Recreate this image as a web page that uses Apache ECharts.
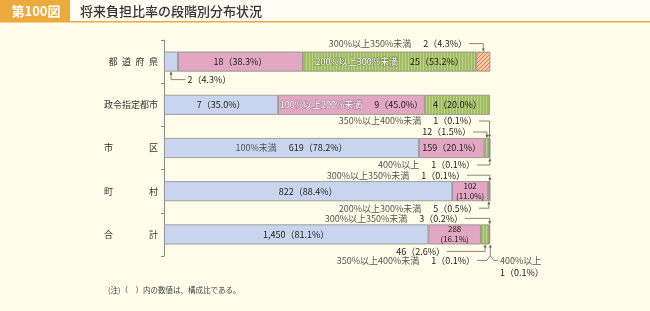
<!DOCTYPE html>
<html><head><meta charset="utf-8">
<script src="https://cdn.jsdelivr.net/npm/echarts@6/dist/echarts.min.js"></script>
<style>html,body{margin:0;padding:0;background:#fffde9;} #c{width:650px;height:311px;}</style>
</head><body><div id="c"></div>
<script>
// ---- data ----
const categories = ['都道府県','政令指定都市','市区','町村','合計'];
const seriesNames = ['100%未満','100%以上200%未満','200%以上300%未満','300%以上350%未満','350%以上400%未満','400%以上'];
const countUnder100 = [2, 7, 619, 822, 1450];
const count100to200 = [18, 9, 159, 102, 288];
const count200to300 = [25, 4, 12, 5, 46];
const count300to350 = [2, 0, 0, 1, 3];
const count350to400 = [0, 0, 1, 0, 1];
const count400plus  = [0, 0, 1, 0, 1];
const pctUnder100 = [4.3, 35.0, 78.2, 88.4, 81.1];
const pct100to200 = [38.3, 45.0, 20.1, 11.0, 16.1];
const pct200to300 = [53.2, 20.0, 1.5, 0.5, 2.6];
const pct300to350 = [4.3, 0, 0, 0.1, 0.2];
const pct350to400 = [0, 0, 0.1, 0, 0.1];
const pct400plus  = [0, 0, 0.1, 0, 0.1];
const noteText = '(注)（　）内の数値は、構成比である。';
const figNo = '第100図';
const titleText = '将来負担比率の段階別分布状況';

const counts = [countUnder100, count100to200, count200to300, count300to350, count350to400, count400plus];
const pcts = [pctUnder100, pct100to200, pct200to300, pct300to350, pct350to400, pct400plus];

// ---- style / layout ----
const FONT = '"Noto Sans CJK JP", "Noto Sans", sans-serif';
function mkPattern(w, h, draw) {
  const cv = document.createElement('canvas'); cv.width = w; cv.height = h;
  const g = cv.getContext('2d'); draw(g, w, h);
  return { image: cv, repeat: 'repeat' };
}
const greenPat = mkPattern(3, 4, (g, w, h) => { g.fillStyle = '#a2bd63'; g.fillRect(0, 0, w, h); g.fillStyle = '#bcd288'; g.fillRect(0, 0, 1, h); });
const orangePat = mkPattern(4, 4, (g, w, h) => {
  g.fillStyle = '#f5c7a2'; g.fillRect(0, 0, w, h);
  g.strokeStyle = '#e08247'; g.lineWidth = 1; g.beginPath();
  g.moveTo(-1, h + 1); g.lineTo(w + 1, -1);
  g.moveTo(-2, 2); g.lineTo(2, -2);
  g.moveTo(w - 2, h + 2); g.lineTo(w + 2, h - 2);
  g.stroke();
});
const colors = ['#c9d5ef', '#e2a7c3', greenPat, orangePat, '#6d6d6d', '#6d6d6d'];
const nameStyles = [
  { color: '#555', fontSize: 9, fontFamily: FONT },
  { color: '#fff', fontSize: 9, fontFamily: FONT, textBorderColor: '#9a7585', textBorderWidth: 1 },
  { color: '#fff', fontSize: 9, fontFamily: FONT, textBorderColor: '#6f8048', textBorderWidth: 1 },
  { color: '#555', fontSize: 9, fontFamily: FONT },
  { color: '#555', fontSize: 9, fontFamily: FONT },
  { color: '#555', fontSize: 9, fontFamily: FONT }
];
const labelMode = [
  ['ext', 'plain', 'named', 'plain', 'plain'],
  ['plain', 'named', 'plain', 'stack', 'stack'],
  ['named', 'plain', 'ext', 'ext', 'ext'],
  ['ext', null, null, 'ext', 'ext'],
  [null, null, 'ext', null, 'ext'],
  [null, null, 'ext', null, 'ext']
];
const catLabel = {'都道府県': '都\u2002道\u2002府\u2002県', '政令指定都市': '政令指定都市', '市区': '市　　　　区', '町村': '町　　　　村', '合計': '合　　　　計'};

const fmtC = n => n.toLocaleString('en-US');
const fmtP = p => p.toFixed(1);

function richFor(si) {
  return {
    n: nameStyles[si],
    v: { color: '#222', fontSize: 9, fontFamily: FONT },
    s: { color: '#222', fontSize: 8, fontFamily: FONT, lineHeight: 10, align: 'center' }
  };
}
function makeLabel(si, ci, mode) {
  const c = fmtC(counts[si][ci]), p = fmtP(pcts[si][ci]);
  if (mode === 'named') return '{n|' + seriesNames[si] + '}　{v|' + c + '（' + p + '%）}';
  if (mode === 'stack') return '{s|' + c + '}\n{s|(' + p + '%)}';
  return '{v|' + c + '（' + p + '%）}';
}

const series = seriesNames.map((name, si) => ({
  name, type: 'bar', stack: 'total', barWidth: 20,
  itemStyle: { color: colors[si], borderColor: '#8c8c8c', borderWidth: 0.8 },
  label: { show: false, position: 'inside', rich: richFor(si) },
  emphasis: { disabled: true },
  data: pcts[si].map((p, ci) => {
    const mode = labelMode[si][ci];
    const item = { value: counts[si][ci] === 0 ? null : p };
    if (mode === 'plain' || mode === 'named' || mode === 'stack') {
      item.label = { show: true, position: 'inside', formatter: makeLabel(si, ci, mode), rich: richFor(si) };
    }
    return item;
  })
}));

const chart = echarts.init(document.getElementById('c'), null, { renderer: 'canvas' });
chart.setOption({
  animation: false,
  backgroundColor: '#fffde9',
  grid: { left: 164, right: 160, top: 40, bottom: 55 },
  xAxis: { type: 'value', min: 0, max: 100, show: false },
  yAxis: {
    type: 'category', data: categories, inverse: true,
    axisLine: { lineStyle: { color: '#8a8a8a', width: 1 } },
    axisTick: { show: true, length: 3, lineStyle: { color: '#8a8a8a' } },
    axisLabel: { formatter: v => catLabel[v] || v, fontSize: 9, color: '#333', margin: 6, fontFamily: FONT }
  },
  series
});

// ---- callouts (positions derived from axes) ----
const callouts = [
  { s: 3, c: 0, side: 'top', dy: 8, textX: -23, align: 'right', named: true },
  { s: 0, c: 0, side: 'bottom', dy: 8, segOff: 16.5, align: 'left', named: false },
  { s: 4, c: 2, side: 'top', dy: 17, textX: -13, align: 'right', named: true },
  { s: 2, c: 2, side: 'top', dy: 6, textX: -19, align: 'right', named: false },
  { s: 5, c: 2, side: 'bottom', dy: 7, textX: -15, align: 'right', named: true },
  { s: 3, c: 3, side: 'top', dy: 6, textX: -25, align: 'right', named: true },
  { s: 2, c: 3, side: 'bottom', dy: 7, textX: -13, align: 'right', named: true },
  { s: 3, c: 4, side: 'top', dy: 6, textX: -27, align: 'right', named: true },
  { s: 2, c: 4, side: 'bottom', dy: 7, textX: -45, align: 'right', named: false },
  { s: 4, c: 4, side: 'bottom', dy: 16, textX: -15, align: 'right', named: true, brace: 'left' },
  { s: 5, c: 4, side: 'bottom', dy: 16, textX: 10, align: 'left', named: true, brace: 'right', split: true }
];
const LC = '#666';
const xPix = v => chart.convertToPixel({ xAxisIndex: 0 }, v);
const yPix = c => chart.convertToPixel({ yAxisIndex: 0 }, categories[c]);
const xEnd = xPix(100);
const g = [];
function segCenter(si, ci) {
  let s = 0; for (let k = 0; k < si; k++) s += pcts[k][ci];
  return xPix(s + pcts[si][ci] / 2);
}
function arrow(x, y, dir) {
  g.push({ type: 'polygon', silent: true, z: 20, shape: { points: [[x - 1.6, y - 3.2 * dir], [x + 1.6, y - 3.2 * dir], [x, y]] }, style: { fill: LC } });
}
function line(pts) {
  g.push({ type: 'polyline', silent: true, z: 20, shape: { points: pts }, style: { stroke: LC, lineWidth: 0.8, fill: null } });
}
let braceDone = false;
callouts.forEach(o => {
  const yc = yPix(o.c);
  const edge = o.side === 'top' ? yc - 10 : yc + 10;
  const ty = o.side === 'top' ? edge - o.dy : edge + o.dy;
  const sx = segCenter(o.s, o.c);
  const tx = o.segOff != null ? sx + o.segOff : xEnd + o.textX;
  const c = fmtC(counts[o.s][o.c]), p = fmtP(pcts[o.s][o.c]);
  let txt;
  if (o.split) txt = '{n|' + seriesNames[o.s] + '}\n{v|' + c + '（' + p + '%）}';
  else if (o.named) txt = '{n|' + seriesNames[o.s] + '}　{v|' + c + '（' + p + '%）}';
  else txt = '{v|' + c + '（' + p + '%）}';
  g.push({
    type: 'text', silent: true, z: 20,
    style: {
      text: txt, x: tx, y: o.split ? ty - 6 : ty, align: o.align, verticalAlign: o.split ? 'top' : 'middle',
      rich: {
        n: { fill: '#555', fontSize: 9, fontFamily: FONT, lineHeight: 12 },
        v: { fill: '#222', fontSize: 9, fontFamily: FONT, lineHeight: 12 }
      }
    }
  });
  if (o.brace) {
    const bx = (segCenter(4, o.c) + segCenter(5, o.c)) / 2;
    if (o.brace === 'left') line([[tx + 2, ty], [bx - 3.5, ty], [bx, ty - 4.5], [bx, edge + 1]]);
    else line([[bx, ty - 4.5], [bx + 3.5, ty], [tx - 2, ty]]);
    if (!braceDone) { arrow(bx, edge, -1); braceDone = true; }
    return;
  }
  const startX = o.align === 'right' ? tx + 2 : tx - 2;
  if (o.side === 'top') { line([[startX, ty], [sx, ty], [sx, edge - 1]]); arrow(sx, edge, 1); }
  else { line([[startX, ty], [sx, ty], [sx, edge + 1]]); arrow(sx, edge, -1); }
});

// header and note
g.push({ type: 'rect', silent: true, z: 1, shape: { x: 0, y: 0, width: 650, height: 21 }, style: { fill: '#fffcf3' } });
g.push({ type: 'rect', silent: true, z: 2, shape: { x: 0, y: 21, width: 650, height: 1.5 }, style: { fill: '#ecaa3c' } });
g.push({ type: 'rect', silent: true, z: 2, shape: { x: 0, y: 0, width: 70, height: 21 }, style: { fill: '#ecaa3c' } });
g.push({ type: 'text', silent: true, z: 3, style: { text: figNo, x: 36, y: 11, align: 'center', verticalAlign: 'middle', fill: '#fff', font: 'bold 13px ' + FONT } });
g.push({ type: 'text', silent: true, z: 3, style: { text: titleText, x: 80, y: 11, align: 'left', verticalAlign: 'middle', fill: '#333', font: '500 13px ' + FONT } });
g.push({ type: 'text', silent: true, z: 3, style: { text: noteText, x: 108, y: 290, align: 'left', verticalAlign: 'middle', fill: '#444', font: '7.5px ' + FONT } });

chart.setOption({ graphic: g });
</script></body></html>
